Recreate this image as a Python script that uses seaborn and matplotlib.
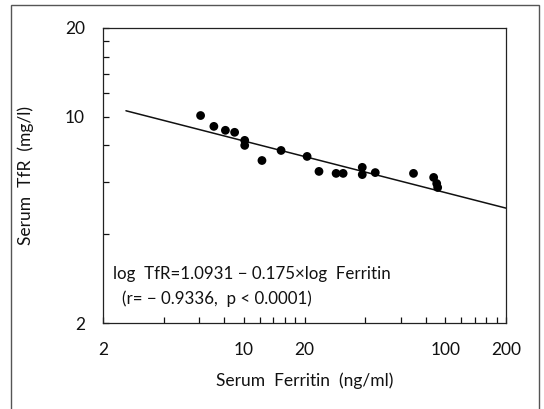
import matplotlib
matplotlib.use("Agg")
import matplotlib.pyplot as plt
import matplotlib.patches as mpatches
from matplotlib.ticker import FixedLocator, NullFormatter
import numpy as np
import pandas as pd
import seaborn as sns

# ---- data ----
ferritin = [6.1, 7.1, 8.1, 9.0, 10.1, 10.1, 12.3, 15.3, 20.6, 23.6, 28.7, 31.1,
            38.7, 38.7, 44.9, 69.5, 87.5, 90.6, 91.6]
tfr = [10.1, 9.28, 9.0, 8.86, 8.32, 8.0, 7.11, 7.69, 7.34, 6.53, 6.43, 6.43,
       6.74, 6.37, 6.47, 6.43, 6.23, 5.94, 5.76]
intercept = 1.0931
slope = -0.175
line_x = [2.6, 200]
x_major = [2, 10, 20, 100, 200]
x_minor = [4, 6, 8, 12, 14, 16, 18, 40, 60, 80, 120, 140, 160, 180]
y_major = [2, 10, 20]
y_minor = [4, 6, 8, 12, 14, 16, 18]
eq_line1 = "log  TfR=1.0931 \u2212 0.175\u00d7log  Ferritin"
eq_line2 = "(r= \u2212 0.9336,  p < 0.0001)"

sns.set_style("white")
plt.rcParams['font.family'] = ['Lato', 'DejaVu Sans']

fig = plt.figure(figsize=(5.44, 4.09), dpi=100)
ax = fig.add_axes([103/544, 1-323/409, (506-103)/544, (323-28)/409])

df = pd.DataFrame({"Ferritin": ferritin, "TfR": tfr})
lx = np.array(line_x, dtype=float)
ly = 10 ** (intercept + slope * np.log10(lx))
ldf = pd.DataFrame({"Ferritin": lx, "TfR": ly})

sns.lineplot(data=ldf, x="Ferritin", y="TfR", ax=ax, color="#111111", linewidth=1.1)
sns.scatterplot(data=df, x="Ferritin", y="TfR", ax=ax, color="#000000", s=40,
                edgecolor="none", zorder=3)

ax.set_xscale("log")
ax.set_yscale("log")
ax.set_xlim(2, 200)
ax.set_ylim(2, 20)

ax.xaxis.set_major_locator(FixedLocator(x_major))
ax.xaxis.set_minor_locator(FixedLocator(x_minor))
ax.set_xticklabels([str(v) for v in x_major])
ax.xaxis.set_minor_formatter(NullFormatter())
ax.yaxis.set_major_locator(FixedLocator(y_major))
ax.yaxis.set_minor_locator(FixedLocator(y_minor))
ax.set_yticklabels([str(v) for v in y_major])
ax.yaxis.set_minor_formatter(NullFormatter())

ax.tick_params(axis="both", which="both", direction="in", length=4, width=0.9,
               color="#111111", labelsize=12.5, labelcolor="#111111",
               bottom=True, left=True, top=False, right=False)
ax.tick_params(axis="x", which="major", pad=14)
ax.tick_params(axis="y", which="major", pad=13)

for sp in ax.spines.values():
    sp.set_visible(True)
    sp.set_color("#222222")
    sp.set_linewidth(0.9)

ax.set_xlabel("Serum  Ferritin  (ng/ml)", fontsize=12.5, color="#111111", labelpad=10)
ax.set_ylabel("Serum  TfR  (mg/l)", fontsize=12.5, color="#111111", labelpad=22)

fig.text(113/544, 1-279/409, eq_line1, fontsize=12.2, color="#111111", va="baseline")
fig.text(122/544, 1-304/409, eq_line2, fontsize=12.2, color="#111111", va="baseline")

# outer frame
frame = mpatches.Rectangle((11/544, -0.2), (539-11)/544, 1.2 - 5/409,
                           transform=fig.transFigure, fill=False,
                           edgecolor="#555555", linewidth=1.0, clip_on=False)
fig.patches.append(frame)

fig.savefig("out.png", dpi=100)
